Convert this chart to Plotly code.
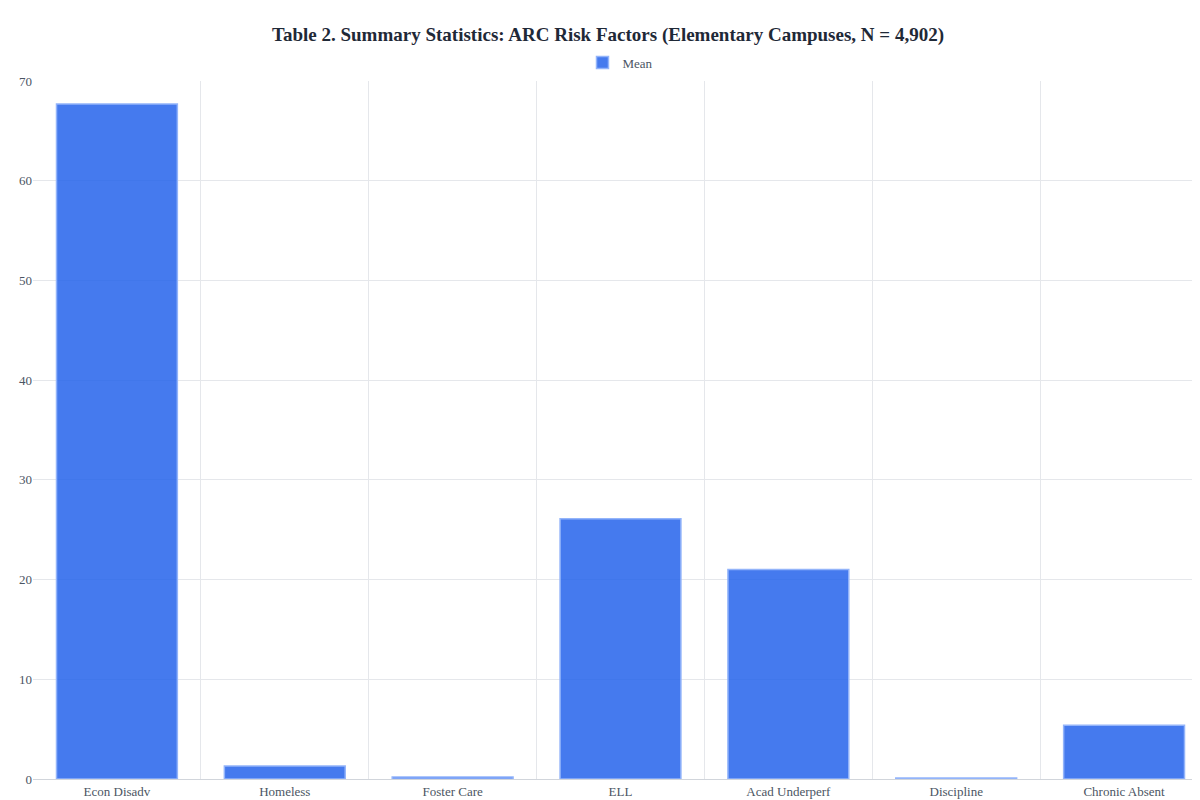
import plotly.graph_objects as go

categories = ["Econ Disadv", "Homeless", "Foster Care", "ELL", "Acad Underperf", "Discipline", "Chronic Absent"]
mean_values = [67.7, 1.3, 0.2, 26.1, 21.0, 0.1, 5.4]

font_family = "Liberation Serif, DejaVu Serif, serif"

fig = go.Figure()
fig.add_trace(go.Bar(
    x=categories, y=mean_values, name="Mean",
    marker=dict(color="rgba(37,99,235,0.85)", line=dict(color="rgba(147,180,250,1)", width=1.5)),
    width=0.72,
))

fig.update_layout(
    width=1200, height=800,
    title=dict(text="<b>Table 2. Summary Statistics: ARC Risk Factors (Elementary Campuses, N = 4,902)</b>",
               x=0.5, y=0.975, xanchor="center", font=dict(size=19, color="#1f2937", family=font_family)),
    font=dict(family=font_family, size=13, color="#4b5563"),
    showlegend=True,
    legend=dict(orientation="h", x=0.5, xanchor="center", y=1.005, yanchor="bottom", font=dict(size=13)),
    margin=dict(l=25, r=0, t=73, b=29),
    plot_bgcolor="white", paper_bgcolor="white",
    xaxis=dict(tickson="boundaries", showgrid=True, gridcolor="#e5e7eb", linecolor="#d1d5db", showline=True,
               ticks="", tickfont=dict(size=13)),
    yaxis=dict(range=[0, 70], dtick=10, showgrid=True, gridcolor="#e5e7eb", zeroline=False,
               tickfont=dict(size=13), ticks=""),
)

fig.write_html("out.html")
